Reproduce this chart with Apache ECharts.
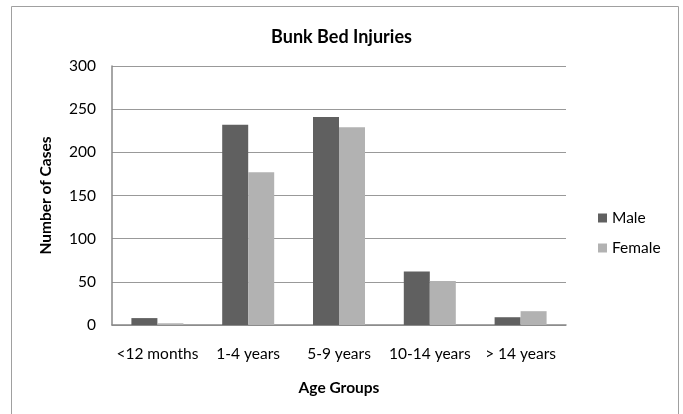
<!DOCTYPE html>
<html>
<head>
<meta charset="utf-8">
<script src="https://cdn.jsdelivr.net/npm/echarts@6/dist/echarts.min.js"></script>
<style>
  html, body { margin: 0; padding: 0; background: #fff; }
  #chart { width: 683px; height: 414px; }
</style>
</head>
<body>
<div id="chart"></div>
<script>
var ageGroups = ['<12 months', '1-4 years', '5-9 years', '10-14 years', '> 14 years'];
var maleCases = [8, 232, 241, 62, 9];
var femaleCases = [2, 177, 229, 51, 16];
var yTicks = { min: 0, max: 300, interval: 50 };

var font = 'Lato, "Liberation Sans", sans-serif';
var chart = echarts.init(document.getElementById('chart'));

chart.setOption({
    animation: false,
    textStyle: { fontFamily: font, color: '#000' },
    title: {
        text: 'Bunk Bed Injuries',
        left: 'center',
        top: 23,
        textStyle: { fontFamily: font, fontSize: 18, fontWeight: 'bold', color: '#000' }
    },
    // outer frame of the chart area
    graphic: [{
        type: 'rect',
        shape: { x: 11.5, y: 6.5, width: 667, height: 420 },
        style: { fill: 'none', stroke: '#a0a0a0', lineWidth: 1 },
        silent: true
    }],
    legend: {
        orient: 'vertical',
        left: 593,
        top: 205,
        itemWidth: 9,
        itemHeight: 9,
        itemGap: 14,
        itemStyle: { borderWidth: 0 },
        icon: 'rect',
        textStyle: { fontFamily: font, fontSize: 15.5, color: '#000' },
        data: ['Male', 'Female']
    },
    grid: { left: 112, right: 117, top: 66, bottom: 89 },
    xAxis: {
        type: 'category',
        data: ageGroups,
        name: 'Age Groups',
        nameLocation: 'middle',
        nameGap: 55,
        nameTextStyle: { fontFamily: font, fontSize: 15.5, fontWeight: 'bold', color: '#000' },
        axisLine: { lineStyle: { color: '#888', width: 1.5 } },
        axisTick: { show: false },
        axisLabel: { margin: 21, fontSize: 15.5, color: '#000', interval: 0 }
    },
    yAxis: {
        type: 'value',
        min: yTicks.min,
        max: yTicks.max,
        interval: yTicks.interval,
        name: 'Number of Cases',
        nameLocation: 'middle',
        nameGap: 58,
        nameTextStyle: { fontFamily: font, fontSize: 15.5, fontWeight: 'bold', color: '#000' },
        axisLine: { show: true, lineStyle: { color: '#888', width: 1.5 } },
        axisTick: { show: false },
        axisLabel: { margin: 16, fontSize: 15.5, color: '#000' },
        splitLine: { lineStyle: { color: '#999', width: 1 } }
    },
    series: [
        {
            name: 'Male',
            type: 'bar',
            data: maleCases,
            barWidth: 26,
            barGap: '0%',
            itemStyle: { color: '#606060' }
        },
        {
            name: 'Female',
            type: 'bar',
            data: femaleCases,
            barWidth: 26,
            barGap: '0%',
            itemStyle: { color: '#b2b2b2' }
        }
    ]
});
</script>
</body>
</html>
